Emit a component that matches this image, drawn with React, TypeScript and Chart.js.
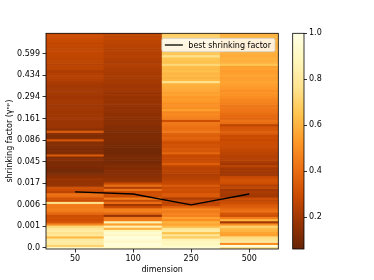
import React, { useEffect, useRef } from "react";
import { Chart, registerables } from "chart.js";

Chart.register(...registerables);

// ---------------- data ----------------
const dimensions = ["50", "100", "250", "500"];
const yTickRows = [0, 10, 20, 30, 40, 50, 60, 70, 80, 90];
const yTickLabels = ["0.0", "0.001", "0.006", "0.017", "0.045", "0.086", "0.161", "0.294", "0.434", "0.599"];

// cell values per dimension, index 0 = bottom row (shrinking factor 0.0) up to row 99
const dim50 = [
  0.95, 0.70, 0.80, 0.82, 0.80, 0.62, 0.80, 0.76, 0.82, 0.78,
  0.72, 0.48, 0.33, 0.30, 0.31, 0.30, 0.38, 0.44, 0.46, 0.44,
  0.45, 0.75, 0.30, 0.32, 0.40, 0.42, 0.26, 0.30, 0.31, 0.18,
  0.17, 0.17, 0.18, 0.15, 0.13, 0.10, 0.09, 0.10, 0.12, 0.11,
  0.12, 0.14, 0.12, 0.34, 0.12, 0.13, 0.11, 0.12, 0.14, 0.13,
  0.33, 0.13, 0.12, 0.14, 0.34, 0.15, 0.18, 0.19, 0.18, 0.19,
  0.20, 0.19, 0.20, 0.19, 0.20, 0.20, 0.19, 0.20, 0.21, 0.20,
  0.19, 0.20, 0.21, 0.20, 0.21, 0.20, 0.21, 0.22, 0.24, 0.24,
  0.25, 0.24, 0.22, 0.26, 0.26, 0.25, 0.26, 0.27, 0.26, 0.27,
  0.27, 0.28, 0.27, 0.27, 0.28, 0.27, 0.29, 0.29, 0.30, 0.29,
];
const dim100 = [
  0.92, 0.95, 0.97, 0.90, 0.95, 0.98, 0.90, 0.95, 0.88, 0.60,
  0.85, 0.55, 0.86, 0.45, 0.44, 0.17, 0.38, 0.46, 0.46, 0.30,
  0.20, 0.40, 0.28, 0.45, 0.30, 0.32, 0.30, 0.42, 0.24, 0.40,
  0.28, 0.17, 0.16, 0.15, 0.14, 0.13, 0.14, 0.12, 0.13, 0.11,
  0.10, 0.10, 0.11, 0.10, 0.09, 0.09, 0.09, 0.10, 0.10, 0.11,
  0.11, 0.12, 0.12, 0.11, 0.12, 0.13, 0.13, 0.14, 0.15, 0.14,
  0.15, 0.16, 0.15, 0.16, 0.17, 0.16, 0.17, 0.18, 0.17, 0.18,
  0.17, 0.19, 0.18, 0.19, 0.20, 0.19, 0.20, 0.21, 0.21, 0.21,
  0.22, 0.21, 0.22, 0.22, 0.23, 0.24, 0.22, 0.23, 0.24, 0.25,
  0.24, 0.25, 0.24, 0.25, 0.25, 0.26, 0.26, 0.27, 0.26, 0.27,
];
const dim250 = [
  0.95, 0.92, 0.88, 0.90, 0.85, 0.68, 0.78, 0.65, 0.82, 0.78,
  0.62, 0.56, 0.60, 0.50, 0.55, 0.46, 0.47, 0.44, 0.48, 0.38,
  0.28, 0.26, 0.28, 0.22, 0.34, 0.35, 0.30, 0.31, 0.29, 0.34,
  0.28, 0.27, 0.25, 0.24, 0.23, 0.25, 0.26, 0.25, 0.27, 0.36,
  0.30, 0.28, 0.29, 0.28, 0.38, 0.33, 0.34, 0.31, 0.32, 0.30,
  0.35, 0.38, 0.36, 0.37, 0.44, 0.41, 0.41, 0.43, 0.44, 0.30,
  0.46, 0.47, 0.49, 0.48, 0.55, 0.50, 0.51, 0.50, 0.53, 0.54,
  0.53, 0.56, 0.55, 0.57, 0.58, 0.59, 0.60, 0.76, 0.62, 0.60,
  0.62, 0.61, 0.64, 0.62, 0.63, 0.72, 0.64, 0.65, 0.66, 0.76,
  0.66, 0.67, 0.68, 0.72, 0.68, 0.70, 0.74, 0.69, 0.70, 0.68,
];
const dim500 = [
  0.75, 0.97, 0.50, 0.80, 0.76, 0.74, 0.55, 0.56, 0.60, 0.62,
  0.70, 0.50, 0.20, 0.60, 0.45, 0.30, 0.32, 0.42, 0.40, 0.36,
  0.34, 0.30, 0.27, 0.30, 0.20, 0.21, 0.22, 0.20, 0.27, 0.24,
  0.30, 0.32, 0.31, 0.28, 0.20, 0.19, 0.21, 0.20, 0.26, 0.20,
  0.22, 0.25, 0.24, 0.25, 0.26, 0.27, 0.28, 0.29, 0.29, 0.30,
  0.28, 0.30, 0.29, 0.34, 0.36, 0.33, 0.33, 0.26, 0.40, 0.42,
  0.38, 0.39, 0.40, 0.42, 0.43, 0.44, 0.43, 0.46, 0.47, 0.48,
  0.50, 0.51, 0.52, 0.50, 0.53, 0.54, 0.55, 0.56, 0.55, 0.54,
  0.56, 0.55, 0.54, 0.56, 0.55, 0.65, 0.60, 0.59, 0.60, 0.58,
  0.59, 0.60, 0.61, 0.60, 0.59, 0.60, 0.62, 0.60, 0.61, 0.60,
];
const columns = [dim50, dim100, dim250, dim500];

// best shrinking factor, as row index per dimension
const bestRow = [26, 25, 20, 25];

const colorbarMin = 0.062;
const colorbarMax = 1.0;
const colorbarTicks = [0.2, 0.4, 0.6, 0.8, 1.0];

// ---------------- colormap (YlOrBr reversed) ----------------
const YLORBR = [
  [255, 255, 229], [255, 247, 188], [254, 227, 145], [254, 196, 79], [254, 153, 41],
  [236, 112, 20], [204, 76, 2], [153, 52, 4], [102, 37, 6],
];
const CMAP = YLORBR.slice().reverse();

function cmap(v: number): string {
  let t = (v - colorbarMin) / (colorbarMax - colorbarMin);
  t = Math.max(0, Math.min(1, t));
  const p = t * (CMAP.length - 1);
  const i = Math.min(CMAP.length - 2, Math.floor(p));
  const f = p - i;
  const a = CMAP[i], b = CMAP[i + 1];
  const c = a.map((av, k) => Math.round(av + (b[k] - av) * f));
  return `rgb(${c[0]},${c[1]},${c[2]})`;
}

const FONT = { family: "DejaVu Sans", size: 8 };

const heatmapPlugin = {
  id: "heatmapCells",
  beforeDatasetsDraw(chart: any) {
    const { ctx, chartArea, scales } = chart;
    const xs = scales.x, ys = scales.y;
    ctx.save();
    ctx.beginPath();
    ctx.rect(chartArea.left, chartArea.top, chartArea.right - chartArea.left, chartArea.bottom - chartArea.top);
    ctx.clip();
    columns.forEach((col, c) => {
      const x0 = xs.getPixelForValue(c - 0.5);
      const x1 = xs.getPixelForValue(c + 0.5);
      col.forEach((v, r) => {
        const yTop = ys.getPixelForValue(r + 0.5);
        const yBot = ys.getPixelForValue(r - 0.5);
        ctx.fillStyle = cmap(v);
        ctx.fillRect(x0 - 0.3, yTop - 0.3, x1 - x0 + 0.6, yBot - yTop + 0.6);
      });
    });
    ctx.restore();
  },
  afterDatasetsDraw(chart: any) {
    const { ctx, chartArea } = chart;
    ctx.save();
    // frame
    ctx.strokeStyle = "#000";
    ctx.lineWidth = 0.8;
    ctx.strokeRect(chartArea.left, chartArea.top, chartArea.right - chartArea.left, chartArea.bottom - chartArea.top);
    // legend
    const label = "best shrinking factor";
    ctx.font = `${FONT.size}px ${FONT.family}`;
    const tw = ctx.measureText(label).width;
    const boxW = 3 + 18 + 5.5 + tw + 4;
    const boxH = 13.4;
    const bx = chartArea.right - 3.3 - boxW;
    const by = chartArea.top + 5;
    ctx.fillStyle = "rgba(255,255,255,0.8)";
    ctx.strokeStyle = "rgba(204,204,204,0.9)";
    ctx.lineWidth = 0.8;
    ctx.beginPath();
    (ctx as any).roundRect ? (ctx as any).roundRect(bx, by, boxW, boxH, 2) : ctx.rect(bx, by, boxW, boxH);
    ctx.fill();
    ctx.stroke();
    ctx.strokeStyle = "#000";
    ctx.lineWidth = 1.3;
    ctx.beginPath();
    ctx.moveTo(bx + 3, by + boxH / 2);
    ctx.lineTo(bx + 21, by + boxH / 2);
    ctx.stroke();
    ctx.fillStyle = "#000";
    ctx.textBaseline = "middle";
    ctx.textAlign = "left";
    ctx.fillText(label, bx + 26.5, by + boxH / 2 + 0.5);
    ctx.restore();
  },
};

const colorbarPlugin = {
  id: "colorbarFill",
  beforeDatasetsDraw(chart: any) {
    const { ctx, chartArea, scales } = chart;
    const ys = scales.y;
    const yB = ys.getPixelForValue(colorbarMin);
    const yT = ys.getPixelForValue(colorbarMax);
    const g = ctx.createLinearGradient(0, yB, 0, yT);
    CMAP.forEach((c, i) => g.addColorStop(i / (CMAP.length - 1), `rgb(${c[0]},${c[1]},${c[2]})`));
    ctx.save();
    ctx.fillStyle = g;
    ctx.fillRect(chartArea.left, yT, chartArea.right - chartArea.left, yB - yT);
    ctx.strokeStyle = "#000";
    ctx.lineWidth = 0.8;
    ctx.strokeRect(chartArea.left, yT, chartArea.right - chartArea.left, yB - yT);
    ctx.restore();
  },
};

export default function App() {
  const mainRef = useRef<HTMLCanvasElement>(null);
  const cbRef = useRef<HTMLCanvasElement>(null);

  useEffect(() => {
    Chart.defaults.font.family = FONT.family;
    Chart.defaults.font.size = FONT.size;
    Chart.defaults.color = "#000";

    const main = new Chart(mainRef.current as HTMLCanvasElement, {
      type: "line",
      data: {
        datasets: [
          {
            label: "best shrinking factor",
            data: bestRow.map((r, i) => ({ x: i, y: r })),
            borderColor: "#000",
            borderWidth: 1.3,
            pointRadius: 0,
            fill: false,
            tension: 0,
          },
        ],
      },
      options: {
        animation: false,
        responsive: false,
        devicePixelRatio: 1,
        events: [],
        layout: { padding: { left: 0, top: 33.3, right: 5.7, bottom: 0 } },
        plugins: { legend: { display: false }, tooltip: { enabled: false } },
        scales: {
          x: {
            type: "linear",
            min: -0.5,
            max: 3.5,
            afterBuildTicks: (s: any) => {
              s.ticks = dimensions.map((_, i) => ({ value: i }));
            },
            afterFit: (s: any) => {
              s.height = 31;
            },
            ticks: {
              callback: (_v: any, i: number) => dimensions[i],
              padding: 2,
              maxRotation: 0,
              autoSkip: false,
            },
            grid: { display: true, drawOnChartArea: false, drawTicks: true, tickLength: 3.5, color: "#000", lineWidth: 0.8 },
            border: { display: false },
            title: { display: true, text: "dimension", padding: { top: 0, bottom: 5 }, font: FONT },
          },
          y: {
            type: "linear",
            min: -0.5,
            max: 99.5,
            afterBuildTicks: (s: any) => {
              s.ticks = yTickRows.map((v) => ({ value: v }));
            },
            afterFit: (s: any) => {
              s.width = 46;
            },
            ticks: {
              callback: (_v: any, i: number) => yTickLabels[i],
              padding: 2.5,
              autoSkip: false,
            },
            grid: { display: true, drawOnChartArea: false, drawTicks: true, tickLength: 3.5, color: "#000", lineWidth: 0.8 },
            border: { display: false },
            title: { display: true, text: "shrinking factor (γⁿᵖ)", padding: { top: 5, bottom: 0 }, font: FONT },
          },
        },
      },
      plugins: [heatmapPlugin],
    } as any);

    const cb = new Chart(cbRef.current as HTMLCanvasElement, {
      type: "scatter",
      data: { datasets: [] },
      options: {
        animation: false,
        responsive: false,
        devicePixelRatio: 1,
        events: [],
        layout: { padding: { left: 8.7, top: 33.3, right: 0, bottom: 31 } },
        plugins: { legend: { display: false }, tooltip: { enabled: false } },
        scales: {
          x: { type: "linear", display: false, min: 0, max: 1 },
          y: {
            type: "linear",
            position: "right",
            min: colorbarMin,
            max: colorbarMax,
            afterBuildTicks: (s: any) => {
              s.ticks = colorbarTicks.map((v) => ({ value: v }));
            },
            afterFit: (s: any) => {
              s.width = 70;
            },
            ticks: { callback: (v: any) => Number(v).toFixed(1), padding: 2, autoSkip: false },
            grid: { display: true, drawOnChartArea: false, drawTicks: true, tickLength: 3, color: "#000", lineWidth: 0.8 },
            border: { display: false },
          },
        },
      },
      plugins: [colorbarPlugin],
    } as any);

    return () => {
      main.destroy();
      cb.destroy();
    };
  }, []);

  return (
    <div style={{ position: "fixed", left: 0, top: 0, width: 374, height: 280, background: "#fff" }}>
      <canvas ref={mainRef} width={284} height={280} style={{ position: "absolute", left: 0, top: 0, width: 284, height: 280 }} />
      <canvas ref={cbRef} width={90} height={280} style={{ position: "absolute", left: 284, top: 0, width: 90, height: 280 }} />
    </div>
  );
}
